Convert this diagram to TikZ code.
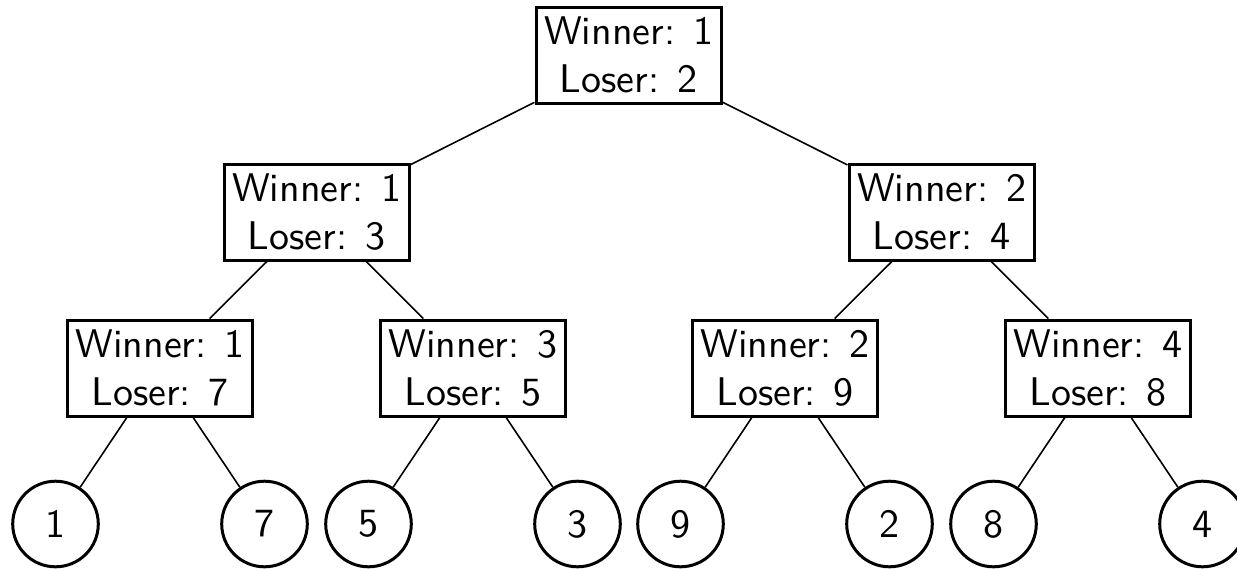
\documentclass[tikz,border=0pt]{standalone}
\usepackage{graphicx}
\usepackage{tikz}
% text set at 10pt and enlarged, keeping the 10pt sans proportions
\newcommand{\enl}[1]{\scalebox{2.0}{\sffamily\fontsize{10}{12}\selectfont #1}}
\newcommand{\wl}[2]{\raisebox{-2pt}[\height][\depth]{\enl{\begin{tabular}{@{}c@{}}Winner: #1\\Loser: #2\end{tabular}}}}
\begin{document}
\begin{tikzpicture}[x=0.5pt,y=-0.5pt,
  match/.style={draw, line width=1.5pt, rectangle, minimum width=92.5pt, minimum height=46pt,
    inner sep=0pt},
  leaf/.style={draw, line width=1.5pt, circle, minimum size=42.8pt, inner sep=0pt},
  link/.style={line width=0.8pt}]
\useasboundingbox (0,0) rectangle (1237,568);

% internal nodes of the tournament tree
\node[match] (r)   at (628.5,55)  {\wl{1}{2}};
\node[match] (a)   at (316.5,212) {\wl{1}{3}};
\node[match] (b)   at (941.5,212) {\wl{2}{4}};
\node[match] (a1)  at (160,368)   {\wl{1}{7}};
\node[match] (a2)  at (473,368)   {\wl{3}{5}};
\node[match] (b1)  at (785,368)   {\wl{2}{9}};
\node[match] (b2)  at (1098,368)  {\wl{4}{8}};

% players
\node[leaf] (p1) at (55.5,524)  {\enl{1}};
\node[leaf] (p7) at (264.5,524) {\enl{7}};
\node[leaf] (p5) at (368.5,524) {\enl{5}};
\node[leaf] (p3) at (577.5,524) {\enl{3}};
\node[leaf] (p9) at (680.5,524) {\enl{9}};
\node[leaf] (p2) at (889.5,524) {\enl{2}};
\node[leaf] (p8) at (993.5,524) {\enl{8}};
\node[leaf] (p4) at (1202.5,524) {\enl{4}};

% edges
\draw[link] (r) -- (a);
\draw[link] (r) -- (b);
\draw[link] (a) -- (a1);
\draw[link] (a) -- (a2);
\draw[link] (b) -- (b1);
\draw[link] (b) -- (b2);
\draw[link] (a1) -- (p1);
\draw[link] (a1) -- (p7);
\draw[link] (a2) -- (p5);
\draw[link] (a2) -- (p3);
\draw[link] (b1) -- (p9);
\draw[link] (b1) -- (p2);
\draw[link] (b2) -- (p8);
\draw[link] (b2) -- (p4);
\end{tikzpicture}
\end{document}
